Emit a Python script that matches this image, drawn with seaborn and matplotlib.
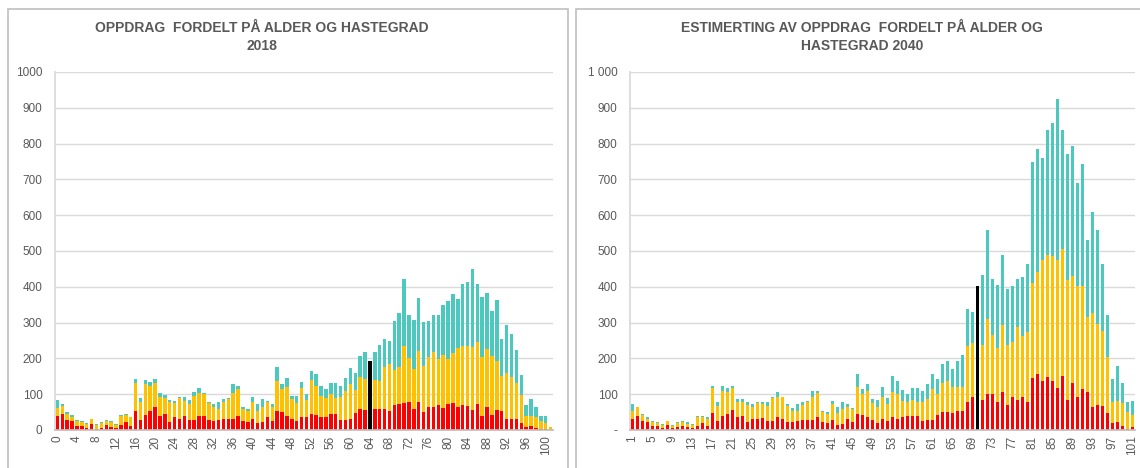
import matplotlib
matplotlib.use("Agg")
import matplotlib.pyplot as plt
from matplotlib.patches import Rectangle
import numpy as np
import pandas as pd
import seaborn as sns

# 2018, age 0..101 (segment values: red / yellow / teal)
ages_2018 = list(range(0, 102))
red_2018 = [39, 46, 27, 25, 12, 10, 6, 18, 4, 5, 13, 8, 5, 15, 22, 10, 53, 27, 42, 53,
            63, 39, 46, 22, 35, 31, 39, 27, 27, 39, 39, 27, 25, 28, 32, 32, 32, 39, 25, 21,
            32, 19, 21, 35, 25, 53, 50, 39, 32, 25, 35, 35, 46, 42, 35, 37, 44, 44, 29, 29,
            31, 48, 58, 56, None, 58, 58, 58, 52, 70, 73, 75, 77, 58, 79, 51, 65, 64, 70, 61,
            73, 75, 64, 70, 67, 56, 73, 39, 65, 42, 56, 54, 30, 30, 30, 19, 9, 11, 5, 2,
            2, 0]
yellow_2018 = [23, 22, 18, 10, 13, 13, 12, 12, 11, 14, 12, 14, 9, 24, 19, 25, 78, 52, 86, 69,
               68, 52, 43, 55, 41, 57, 43, 47, 68, 63, 62, 48, 40, 30, 47, 54, 71, 75, 33, 32,
               47, 34, 44, 42, 38, 84, 64, 82, 54, 50, 82, 49, 93, 80, 60, 52, 57, 45, 62, 79,
               97, 64, 90, 86, None, 81, 79, 118, 133, 98, 104, 160, 124, 112, 143, 129, 138, 153, 128, 149,
               125, 140, 166, 164, 169, 176, 172, 165, 162, 165, 137, 97, 129, 117, 101, 79, 31, 29, 31, 23,
               17, 8]
teal_2018 = [21, 5, 6, 7, 2, 2, 2, 1, 3, 3, 2, 3, 3, 3, 5, 2, 11, 10, 11, 11,
             11, 11, 10, 7, 4, 3, 9, 10, 11, 15, 3, 3, 8, 21, 7, 3, 26, 10, 5, 5,
             14, 20, 21, 5, 10, 39, 14, 24, 10, 21, 17, 16, 27, 35, 29, 25, 30, 42, 33, 37,
             45, 47, 60, 76, None, 79, 101, 78, 63, 136, 150, 186, 119, 137, 146, 121, 101, 103, 122, 140,
             162, 164, 137, 173, 177, 217, 162, 168, 156, 125, 169, 104, 133, 121, 93, 56, 30, 47, 27, 14,
             20, 1]
marker_age_2018 = 64
marker_value_2018 = 192

# 2040, age 1..101
ages_2040 = list(range(1, 102))
red_2040 = [31, 39, 25, 21, 11, 11, 6, 13, 5, 7, 11, 7, 6, 11, 19, 11, 47, 25, 39, 45,
            56, 35, 39, 21, 31, 31, 33, 25, 25, 35, 31, 23, 21, 25, 28, 28, 28, 35, 21, 19,
            28, 14, 17, 31, 21, 45, 42, 35, 27, 20, 30, 25, 35, 31, 35, 39, 39, 39, 25, 28,
            28, 42, 51, 49, 47, 53, 53, 78, 93, None, 84, 101, 101, 79, 107, 70, 91, 84, 93, 79,
            145, 156, 136, 148, 138, 117, 151, 84, 131, 91, 114, 107, 65, 70, 67, 47, 19, 21, 11, 2,
            7]
yellow_2040 = [23, 24, 16, 9, 10, 8, 7, 11, 6, 12, 12, 10, 7, 25, 17, 20, 70, 43, 71, 62,
               61, 43, 39, 49, 34, 44, 40, 43, 63, 56, 61, 44, 33, 29, 42, 49, 63, 68, 30, 26,
               45, 33, 41, 34, 37, 76, 58, 73, 49, 45, 63, 48, 72, 69, 47, 40, 45, 40, 54, 58,
               86, 58, 80, 87, 72, 68, 68, 158, 150, None, 154, 210, 164, 149, 187, 168, 154, 203, 169, 196,
               265, 286, 340, 342, 347, 359, 354, 334, 299, 311, 288, 208, 262, 226, 209, 156, 60, 61, 64, 49,
               35]
teal_2040 = [19, 2, 4, 5, 4, 2, 3, 2, 3, 2, 2, 4, 3, 3, 3, 4, 7, 11, 14, 10,
             7, 8, 8, 7, 8, 4, 6, 9, 5, 14, 1, 6, 7, 19, 8, 4, 19, 7, 3, 6,
             9, 18, 19, 8, 3, 35, 14, 20, 10, 19, 27, 17, 43, 38, 30, 22, 33, 38, 31, 43,
             42, 42, 53, 57, 51, 72, 89, 102, 87, None, 195, 247, 158, 177, 195, 157, 157, 136, 165, 190,
             340, 343, 284, 347, 372, 449, 332, 353, 362, 287, 341, 215, 282, 262, 189, 119, 63, 97, 56, 28,
             40]
marker_age_2040 = 70
marker_value_2040 = 402

RED = "#FF0000"
YELLOW = "#FFC000"
TEAL = "#4BC9BE"
TXT = "#595959"
GRID = "#D9D9D9"

sns.set_theme(style="white")
plt.rcParams['font.family'] = ['Liberation Sans', 'DejaVu Sans']


def draw_panel(ax, ages, red, yellow, teal, marker_age, marker_value, ylabels):
    df = pd.DataFrame({"age": [str(a) for a in ages],
                       "red": red, "yellow": yellow, "teal": teal}).fillna(0)
    df["mid"] = df["red"] + df["yellow"]
    df["total"] = df["mid"] + df["teal"]
    m = ages.index(marker_age)
    df.loc[m, "total"] = marker_value
    order = list(df["age"])

    # overlay the cumulative levels to get stacked bars
    for col, c in [("total", TEAL), ("mid", YELLOW), ("red", RED)]:
        sns.barplot(data=df, x="age", y=col, order=order, color=c, saturation=1,
                    width=0.72, errorbar=None, linewidth=0, ax=ax)
    ax.patches[m].set_facecolor("black")

    ax.set_ylim(0, 1000)
    ax.set_yticks(range(0, 1001, 100))
    ax.set_yticklabels(ylabels)
    ticks = list(range(0, len(ages), 4))
    ax.set_xticks(ticks)
    ax.set_xticklabels([str(ages[i]) for i in ticks], rotation=90)
    ax.set_xlim(-0.5, len(ages) - 0.5)
    ax.set(xlabel="", ylabel="")
    ax.yaxis.grid(True, color=GRID, lw=1)
    ax.set_axisbelow(True)
    for s in ["top", "right"]:
        ax.spines[s].set_visible(False)
    ax.spines["left"].set_color(GRID)
    ax.spines["bottom"].set_color("#BFBFBF")
    ax.tick_params(axis="y", length=0, pad=9, labelsize=8.5, labelcolor=TXT)
    ax.tick_params(axis="x", length=0, pad=4, labelsize=8.5, labelcolor=TXT)


W, H = 1140, 468
fig = plt.figure(figsize=(W / 100, H / 100), dpi=100)

ax1 = fig.add_axes([55 / W, 1 - 430 / H, 498 / W, 358 / H])
ax2 = fig.add_axes([630 / W, 1 - 430 / H, 505 / W, 358 / H])

draw_panel(ax1, ages_2018, red_2018, yellow_2018, teal_2018,
           marker_age_2018, marker_value_2018, [str(v) for v in range(0, 1001, 100)])
labels_2040 = ["-"] + [str(v) for v in range(100, 1000, 100)] + ["1 000"]
draw_panel(ax2, ages_2040, red_2040, yellow_2040, teal_2040,
           marker_age_2040, marker_value_2040, labels_2040)

# chart frames
fig.add_artist(Rectangle((8 / W, -0.05), 560 / W, 1 - 9 / H + 0.05, transform=fig.transFigure,
                         fill=False, edgecolor="#BFBFBF", lw=1.2))
fig.add_artist(Rectangle((576 / W, -0.05), 570 / W, 1 - 9 / H + 0.05, transform=fig.transFigure,
                         fill=False, edgecolor="#BFBFBF", lw=1.2))

fig.text(262 / W, 1 - 37 / H, "OPPDRAG  FORDELT PÅ ALDER OG HASTEGRAD\n2018",
         ha="center", va="center", fontsize=10, fontweight="bold", color=TXT, linespacing=1.45)
fig.text(862 / W, 1 - 37 / H, "ESTIMERTING AV OPPDRAG  FORDELT PÅ ALDER OG\nHASTEGRAD 2040",
         ha="center", va="center", fontsize=10, fontweight="bold", color=TXT, linespacing=1.45)

fig.savefig("out.png", dpi=100)
